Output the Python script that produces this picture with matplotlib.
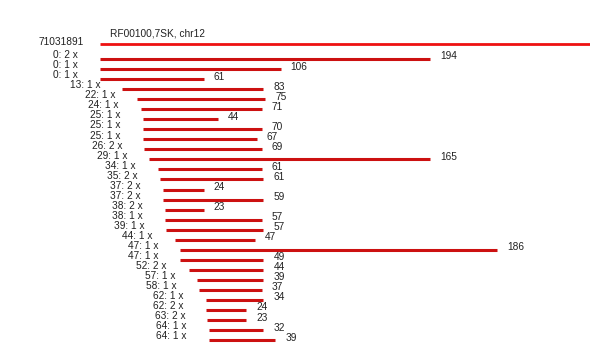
import matplotlib
matplotlib.use("Agg")
import matplotlib.pyplot as plt

plt.rcParams['font.family'] = ['Liberation Sans', 'DejaVu Sans']

title = "RF00100,7SK, chr12"
ref_label = "71031891"
ref_length = 300

offsets = [0, 0, 0, 13, 22, 24, 25, 25, 25, 26, 29, 34, 35, 37, 37, 38, 38, 39,
           44, 47, 47, 52, 57, 58, 62, 62, 63, 64, 64]
counts = [2, 1, 1, 1, 1, 1, 1, 1, 1, 2, 1, 1, 2, 2, 2, 2, 1, 1,
          1, 1, 1, 2, 1, 1, 1, 2, 2, 1, 1]
lengths = [194, 106, 61, 83, 75, 71, 44, 70, 67, 69, 165, 61, 61, 24, 59, 23, 57, 57,
           47, 186, 49, 44, 39, 37, 34, 24, 23, 32, 39]

W, H = 590, 360
fig = plt.figure(figsize=(W / 100, H / 100), dpi=100)
ax = fig.add_axes([0, 0, 1, 1])
ax.set_axis_off()

px = 1.703  # pixels per unit
x0 = 100
ax.set_xlim(-x0 / px, (W - x0) / px)
rowpx = 10.04
y0 = 59
ax.set_ylim((H - y0) / rowpx, -y0 / rowpx)

fs = 7.3
dx = 10 / px  # 10 px
# reference
ref_y = -1.5
ax.plot([0, ref_length], [ref_y, ref_y], color="#ee1111", lw=2.0, solid_capstyle="butt")
ax.text(-16 / px, ref_y - 0.15, ref_label, ha="right", va="center", fontsize=fs, color="#222222")
ax.text(10 / px, ref_y - 1.0, title, ha="left", va="center", fontsize=fs, color="#222222")

for i, (o, c, L) in enumerate(zip(offsets, counts, lengths)):
    ax.plot([o, o + L], [i, i], color="#cc1111", lw=2.2, solid_capstyle="butt")
    ax.text(o - 22 / px, i - 0.38, f"{o}: {c} x", ha="right", va="center", fontsize=fs, color="#222222")
    ax.text(o + L + dx, i - 0.25, f"{L}", ha="left", va="center", fontsize=fs, color="#222222")

fig.savefig("out.png", dpi=100, facecolor="white")
